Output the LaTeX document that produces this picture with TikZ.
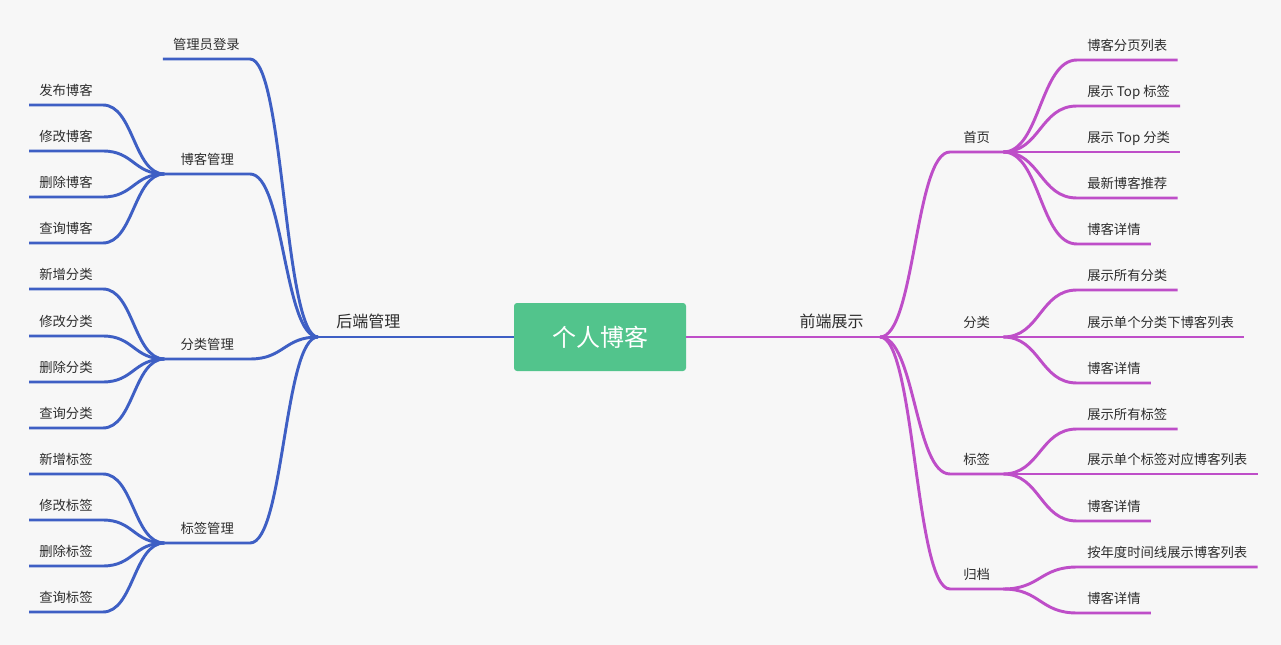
\documentclass[tikz,border=0pt]{standalone}
\usepackage{fontspec}
\newfontfamily\cjk{Noto Sans CJK SC}
\usepackage{tikz}
\usetikzlibrary{calc}

\definecolor{bggray}{RGB}{247,247,247}
\definecolor{rootgreen}{RGB}{82,196,140}
\definecolor{blueline}{RGB}{62,95,196}
\definecolor{purpleline}{RGB}{190,78,200}
\definecolor{textgray}{RGB}{45,45,45}

\begin{document}
\begin{tikzpicture}[x=0.75pt,y=0.75pt,yscale=-1,xscale=1,
  topic/.style={inner xsep=7.5pt,inner ysep=6.75pt,text depth=0pt,text=textgray,font=\cjk\fontsize{10pt}{12pt}\selectfont},
  major/.style={inner xsep=7.5pt,inner ysep=6.75pt,text depth=0pt,text=textgray,font=\cjk\fontsize{12pt}{14pt}\selectfont},
  midleft/.style={topic,anchor=south east,minimum width=63.75pt},
  midright/.style={topic,anchor=south west,inner xsep=9.75pt},
  rootbox/.style={fill=rootgreen,rounded corners=2.25pt,minimum width=129pt,minimum height=51pt,text=white,font=\cjk\fontsize{18pt}{20pt}\selectfont},
  bline/.style={draw=blueline,line width=2.2pt},
  pline/.style={draw=purpleline,line width=2.2pt},
  branch/.style={to path={.. controls ($(\tikztostart)!0.5!(\tikztostart -| \tikztotarget)$) and ($(\tikztotarget)!0.5!(\tikztotarget -| \tikztostart)$) .. (\tikztotarget)}}]
%set diagram left start at 0, and has height of 645
\fill[bggray] (0,0) rectangle (1281,645);
\useasboundingbox (0,0) rectangle (1281,645);

%Shape: Rectangle [root]
\node[rootbox] (root) at (600,337) {个人博客};

% Text Node
\node[major,anchor=south west] (back) at (326,337) {后端管理};
\coordinate (jL) at (318,337);
% Text Node
\node[major,anchor=south east] (front) at (874,337) {前端展示};
\coordinate (jR) at (880,337);

%Straight Lines
\draw[bline] (root.west) -- (jL);
\draw[pline] (root.east) -- (jR);

% Text Node
\node[midleft] (login) at (250,59) {管理员登录};
\node[midleft] (blogmgr) at (250,174) {博客管理};
\node[midleft] (catmgr) at (250,359) {分类管理};
\node[midleft] (tagmgr) at (250,543) {标签管理};

% Text Node
\node[topic,anchor=south west] (blogA) at (29,105) {发布博客};
\node[topic,anchor=south west] (blogB) at (29,151) {修改博客};
\node[topic,anchor=south west] (blogC) at (29,197) {删除博客};
\node[topic,anchor=south west] (blogD) at (29,243) {查询博客};
\node[topic,anchor=south west] (catA) at (29,289) {新增分类};
\node[topic,anchor=south west] (catB) at (29,336) {修改分类};
\node[topic,anchor=south west] (catC) at (29,382) {删除分类};
\node[topic,anchor=south west] (catD) at (29,428) {查询分类};
\node[topic,anchor=south west] (tagA) at (29,474) {新增标签};
\node[topic,anchor=south west] (tagB) at (29,520) {修改标签};
\node[topic,anchor=south west] (tagC) at (29,566) {删除标签};
\node[topic,anchor=south west] (tagD) at (29,612) {查询标签};

%Curves
\draw[bline] (login.south west) -- (login.south east) to[branch] (jL);
\draw[bline] (blogmgr.south west) -- (blogmgr.south east) to[branch] (jL);
\draw[bline] (catmgr.south west) -- (catmgr.south east) to[branch] (jL);
\draw[bline] (tagmgr.south west) -- (tagmgr.south east) to[branch] (jL);
\draw[bline] (blogA.south west) -- (blogA.south east) to[branch] (blogmgr.south west);
\draw[bline] (blogB.south west) -- (blogB.south east) to[branch] (blogmgr.south west);
\draw[bline] (blogC.south west) -- (blogC.south east) to[branch] (blogmgr.south west);
\draw[bline] (blogD.south west) -- (blogD.south east) to[branch] (blogmgr.south west);
\draw[bline] (catA.south west) -- (catA.south east) to[branch] (catmgr.south west);
\draw[bline] (catB.south west) -- (catB.south east) to[branch] (catmgr.south west);
\draw[bline] (catC.south west) -- (catC.south east) to[branch] (catmgr.south west);
\draw[bline] (catD.south west) -- (catD.south east) to[branch] (catmgr.south west);
\draw[bline] (tagA.south west) -- (tagA.south east) to[branch] (tagmgr.south west);
\draw[bline] (tagB.south west) -- (tagB.south east) to[branch] (tagmgr.south west);
\draw[bline] (tagC.south west) -- (tagC.south east) to[branch] (tagmgr.south west);
\draw[bline] (tagD.south west) -- (tagD.south east) to[branch] (tagmgr.south west);

% Text Node
\node[midright] (home) at (950,152) {首页};
\node[midright] (cate) at (950,337) {分类};
\node[midright] (tag) at (950,474) {标签};
\node[midright] (arch) at (950,589) {归档};

% Text Node
\node[topic,anchor=south west] (homeA) at (1077,60) {博客分页列表};
\node[topic,anchor=south west] (homeB) at (1077,106) {展示 Top 标签};
\node[topic,anchor=south west] (homeC) at (1077,152) {展示 Top 分类};
\node[topic,anchor=south west] (homeD) at (1077,198) {最新博客推荐};
\node[topic,anchor=south west] (homeE) at (1077,244) {博客详情};
\node[topic,anchor=south west] (cateA) at (1077,290) {展示所有分类};
\node[topic,anchor=south west] (cateB) at (1077,337) {展示单个分类下博客列表};
\node[topic,anchor=south west] (cateC) at (1077,383) {博客详情};
\node[topic,anchor=south west] (tagA2) at (1077,429) {展示所有标签};
\node[topic,anchor=south west] (tagB2) at (1077,474) {展示单个标签对应博客列表};
\node[topic,anchor=south west] (tagC2) at (1077,521) {博客详情};
\node[topic,anchor=south west] (archA) at (1077,567) {按年度时间线展示博客列表};
\node[topic,anchor=south west] (archB) at (1077,613) {博客详情};

%Curves
\draw[pline] (jR) to[branch] (home.south west) -- (home.south east);
\draw[pline] (jR) to[branch] (cate.south west) -- (cate.south east);
\draw[pline] (jR) to[branch] (tag.south west) -- (tag.south east);
\draw[pline] (jR) to[branch] (arch.south west) -- (arch.south east);
\draw[pline] (home.south east) to[branch] (homeA.south west) -- (homeA.south east);
\draw[pline] (home.south east) to[branch] (homeB.south west) -- (homeB.south east);
\draw[pline] (home.south east) to[branch] (homeC.south west) -- (homeC.south east);
\draw[pline] (home.south east) to[branch] (homeD.south west) -- (homeD.south east);
\draw[pline] (home.south east) to[branch] (homeE.south west) -- (homeE.south east);
\draw[pline] (cate.south east) to[branch] (cateA.south west) -- (cateA.south east);
\draw[pline] (cate.south east) to[branch] (cateB.south west) -- (cateB.south east);
\draw[pline] (cate.south east) to[branch] (cateC.south west) -- (cateC.south east);
\draw[pline] (tag.south east) to[branch] (tagA2.south west) -- (tagA2.south east);
\draw[pline] (tag.south east) to[branch] (tagB2.south west) -- (tagB2.south east);
\draw[pline] (tag.south east) to[branch] (tagC2.south west) -- (tagC2.south east);
\draw[pline] (arch.south east) to[branch] (archA.south west) -- (archA.south east);
\draw[pline] (arch.south east) to[branch] (archB.south west) -- (archB.south east);

\end{tikzpicture}
\end{document}
